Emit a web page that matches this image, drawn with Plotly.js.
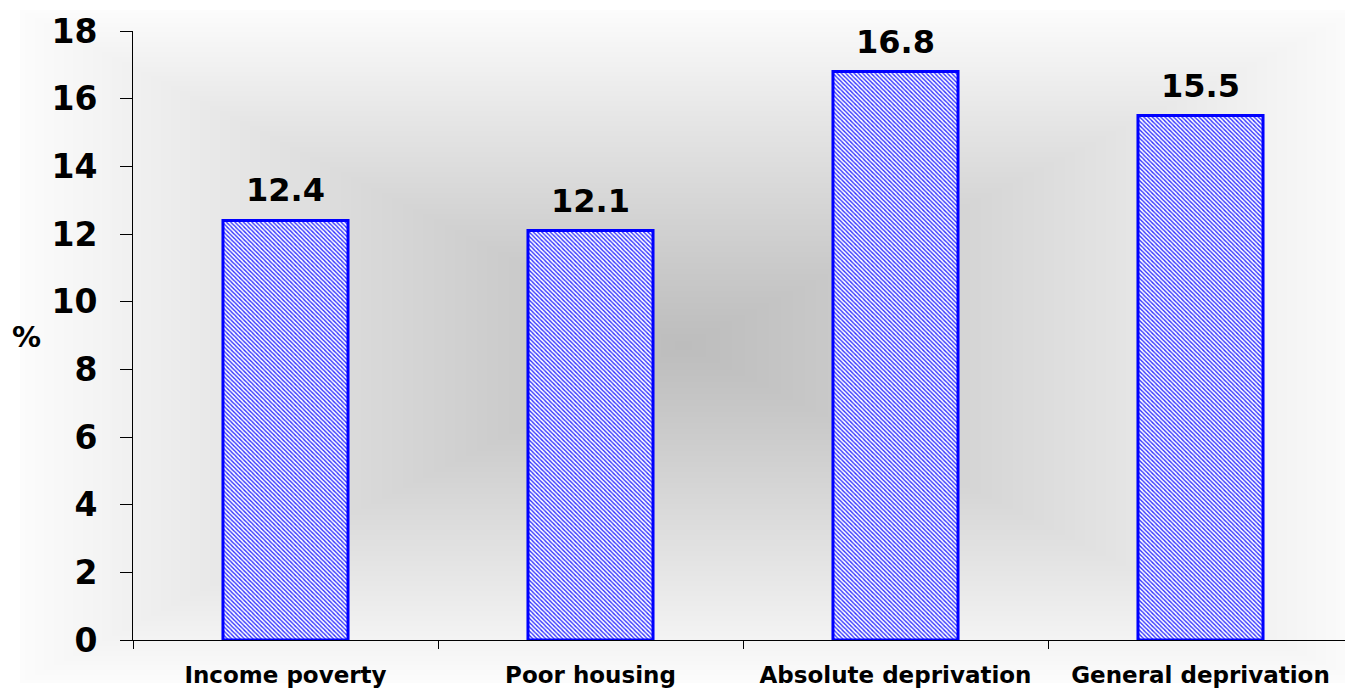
<!DOCTYPE html>
<html>
<head>
<meta charset="utf-8">
<script src="https://cdn.plot.ly/plotly-3.0.1.min.js"></script>
<style>html,body{margin:0;padding:0;background:#fff;}#chart{width:1345px;height:689px;}</style>
</head>
<body>
<div id="chart"></div>
<script>
const categories = ["Income poverty", "Poor housing", "Absolute deprivation", "General deprivation"];
const values = [12.4, 12.1, 16.8, 15.5];
const valueLabels = ["12.4", "12.1", "16.8", "15.5"];
const yTickVals = [0, 2, 4, 6, 8, 10, 12, 14, 16, 18];
const yTickText = ["0", "2", "4", "6", "8", "10", "12", "14", "16", "18"];
const yAxisLabel = "%";

const W = 1345, H = 689;
const M = {l: 133, r: 0, t: 31, b: 49};
const PW = W - M.l - M.r, PH = H - M.t - M.b;

// Rectangular "from centre" grey gradient background
function makeBg() {
  const c = document.createElement('canvas');
  c.width = W; c.height = H;
  const ctx = c.getContext('2d');
  const img = ctx.createImageData(W, H);
  const x0 = 20, x1 = 1360, y0 = 10, y1 = 682;
  const cx = 683, cy = 345;
  const inner = 189, outer = 252;
  for (let y = 0; y < H; y++) {
    for (let x = 0; x < W; x++) {
      let v = 255;
      if (x >= x0 && x <= x1 && y >= y0 && y <= y1) {
        const hx = x < cx ? (cx - x0) : (x1 - cx);
        const hy = y < cy ? (cy - y0) : (y1 - cy);
        const t = Math.max(Math.abs(x - cx) / hx, Math.abs(y - cy) / hy);
        const tt = Math.pow(Math.min(t, 1), 1.1);
        v = Math.round(inner + (outer - inner) * tt);
      }
      const i = (y * W + x) * 4;
      img.data[i] = v; img.data[i+1] = v; img.data[i+2] = v; img.data[i+3] = 255;
    }
  }
  ctx.putImageData(img, 0, 0);
  return c.toDataURL('image/png');
}

const font = "DejaVu Sans, Verdana, sans-serif";

const trace = {
  type: 'bar',
  x: categories,
  y: values,
  marker: {
    color: '#ffffff',
    line: {color: '#0000ff', width: 3},
    pattern: {shape: '\\', fgcolor: '#3030ff', bgcolor: '#ffffff', size: 3, solidity: 0.45}
  },
  hoverinfo: 'skip'
};

const annotations = categories.map((c, i) => ({
  x: c, y: values[i], xref: 'x', yref: 'y',
  text: valueLabels[i], showarrow: false,
  yanchor: 'bottom', yshift: 9,
  font: {family: font, size: 32, color: '#000', weight: 'bold'}
}));
annotations.push({
  xref: 'paper', yref: 'paper',
  x: (26 - M.l) / PW, y: (640 - 337) / PH,
  xanchor: 'center', yanchor: 'middle',
  text: yAxisLabel, showarrow: false,
  font: {family: font, size: 29, color: '#000', weight: 'bold'}
});

const layout = {
  width: W, height: H,
  margin: M,
  paper_bgcolor: '#ffffff',
  plot_bgcolor: 'rgba(0,0,0,0)',
  showlegend: false,
  bargap: 0.59,
  images: [{
    source: makeBg(), xref: 'paper', yref: 'paper',
    x: -M.l / PW, y: (PH + M.t) / PH,
    sizex: W / PW, sizey: H / PH,
    xanchor: 'left', yanchor: 'top',
    sizing: 'stretch', layer: 'below'
  }],
  xaxis: {
    type: 'category',
    range: [-0.5, -0.5 + PW / 305],
    showline: true, linecolor: '#000', linewidth: 1,
    ticks: 'outside', tickson: 'boundaries', ticklen: 8, tickcolor: '#000', tickwidth: 1,
    ticklabelstandoff: 14,
    showgrid: false, zeroline: false,
    tickfont: {family: font, size: 23, color: '#000', weight: 'bold'}
  },
  yaxis: {
    range: [0, 18],
    tickvals: yTickVals, ticktext: yTickText,
    showline: true, linecolor: '#000', linewidth: 1,
    ticks: 'outside', ticklen: 12, tickcolor: '#000', tickwidth: 1,
    ticklabelstandoff: 16,
    showgrid: false, zeroline: false,
    tickfont: {family: font, size: 33, color: '#000', weight: 'bold'}
  },
  annotations: annotations
};

Plotly.newPlot('chart', [trace], layout, {staticPlot: true, displayModeBar: false});
</script>
</body>
</html>
